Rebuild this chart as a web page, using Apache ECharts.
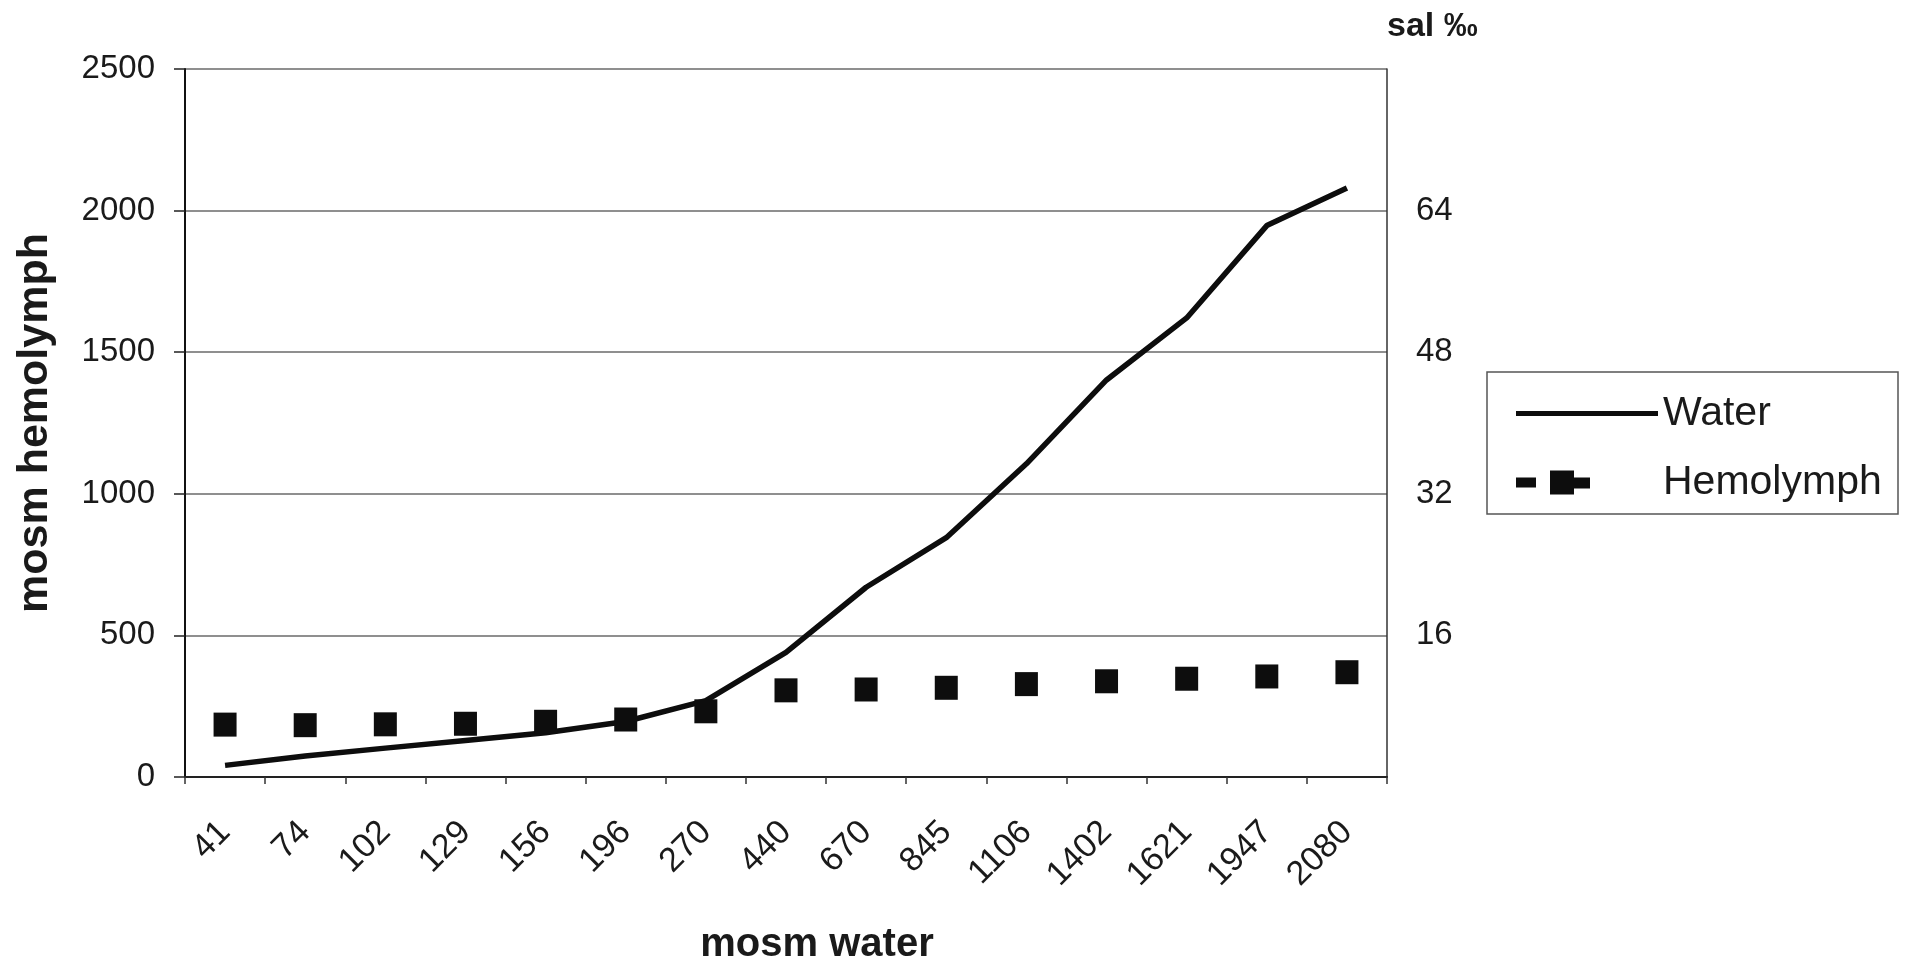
<!DOCTYPE html>
<html>
<head>
<meta charset="utf-8">
<title>Water and hemolymph osmolality</title>
<script src="https://cdn.jsdelivr.net/npm/echarts@6/dist/echarts.min.js"></script>
<style>
  html, body { margin: 0; padding: 0; background: #ffffff; }
  #chart { width: 1914px; height: 967px; }
</style>
</head>
<body>
<div id="chart"></div>
<script>
// Osmolality of the surrounding water (x categories) and of the hemolymph
const categories = ['41', '74', '102', '129', '156', '196', '270', '440', '670', '845', '1106', '1402', '1621', '1947', '2080'];
const waterValues = [41, 74, 102, 129, 156, 196, 270, 440, 670, 845, 1106, 1402, 1621, 1947, 2080];
const hemolymphValues = [185, 183, 186, 188, 195, 203, 232, 306, 309, 315, 328, 338, 347, 355, 370];

// Axis scales: mosm on the left, salinity (per mille) on the right
const mosmTicks = { min: 0, max: 2500, step: 500 };
const salTicks = { min: 0, max: 80, step: 16 };

const FONT = '"Liberation Sans", Arial, Helvetica, sans-serif';
const INK = '#1a1a1a';

// Legend glyphs drawn in a 142 x 28 box (corner points fix the box size)
const BOX = 'M0,0L0,0M142,28L142,28';
const WATER_ICON = 'path://' + BOX + 'M0,11.5L142,11.5L142,16.5L0,16.5Z';
const HEMO_ICON = 'path://' + BOX + 'M0,9L20,9L20,19L0,19Z M34,2L58,2L58,26L34,26Z M58,9L74,9L74,20L58,20Z';

const chart = echarts.init(document.getElementById('chart'), null, { renderer: 'canvas' });

chart.setOption({
  animation: false,
  backgroundColor: '#ffffff',
  grid: { left: 185, right: 527, top: 69, bottom: 190, containLabel: false, outerBoundsMode: 'none' },
  legend: {
    orient: 'vertical',
    left: 1511,
    top: 388,
    itemWidth: 142,
    itemHeight: 28,
    itemGap: 28,
    selectedMode: false,
    itemStyle: { borderWidth: 0, opacity: 1 },
    textStyle: { fontFamily: FONT, fontSize: 41, color: INK },
    data: [
      { name: 'Water', icon: WATER_ICON, itemStyle: { color: '#0d0d0d', borderWidth: 0, opacity: 1 } },
      { name: 'Hemolymph', icon: HEMO_ICON, itemStyle: { color: '#0d0d0d', borderWidth: 0, opacity: 1 } }
    ]
  },
  graphic: [
    {
      type: 'rect',
      z: 1,
      shape: { x: 1487, y: 372, width: 411, height: 142 },
      style: { fill: '#ffffff', stroke: '#555555', lineWidth: 1.5 }
    }
  ],
  xAxis: {
    type: 'category',
    data: categories,
    boundaryGap: true,
    name: 'mosm water',
    nameLocation: 'middle',
    nameGap: 148,
    nameTextStyle: { fontFamily: FONT, fontSize: 40, fontWeight: 'bold', color: INK, padding: [0, 0, 0, 62] },
    axisLine: { lineStyle: { color: '#222222', width: 2 } },
    axisTick: { show: true, interval: 0, length: 7, lineStyle: { color: '#333333', width: 1.5 } },
    axisLabel: { interval: 0, rotate: 45, fontFamily: FONT, fontSize: 34, color: INK, margin: 50 },
    splitLine: { show: false }
  },
  yAxis: [
    {
      type: 'value',
      position: 'left',
      min: mosmTicks.min,
      max: mosmTicks.max,
      interval: mosmTicks.step,
      name: 'mosm hemolymph',
      nameLocation: 'middle',
      nameGap: 128,
      nameTextStyle: { fontFamily: FONT, fontSize: 43, fontWeight: 'bold', color: INK },
      axisLine: { show: true, lineStyle: { color: '#111111', width: 2 } },
      axisTick: { show: true, length: 11, lineStyle: { color: '#222222', width: 1.5 } },
      axisLabel: { fontFamily: FONT, fontSize: 33, color: INK, margin: 30, formatter: (v) => String(v) },
      splitLine: { show: true, lineStyle: { color: '#6a6a6a', width: 1.5 } }
    },
    {
      type: 'value',
      position: 'right',
      min: salTicks.min,
      max: salTicks.max,
      interval: salTicks.step,
      name: 'sal ‰',
      nameLocation: 'end',
      nameGap: 25,
      nameTextStyle: { fontFamily: FONT, fontSize: 34, fontWeight: 'bold', color: INK, align: 'left', verticalAlign: 'bottom' },
      axisLine: { show: true, lineStyle: { color: '#333333', width: 1.5 } },
      axisTick: { show: false },
      axisLabel: { fontFamily: FONT, fontSize: 33, color: INK, margin: 29, showMinLabel: false, showMaxLabel: false, formatter: (v) => String(v) },
      splitLine: { show: false }
    }
  ],
  series: [
    {
      name: 'Water',
      type: 'line',
      yAxisIndex: 0,
      data: waterValues,
      symbol: 'none',
      lineStyle: { color: '#0d0d0d', width: 5.5 },
      itemStyle: { color: '#0d0d0d' },
      z: 3
    },
    {
      name: 'Hemolymph',
      type: 'scatter',
      yAxisIndex: 0,
      data: hemolymphValues,
      symbol: 'rect',
      symbolSize: [23, 24],
      itemStyle: { color: '#0d0d0d', opacity: 1 },
      z: 4
    }
  ]
});
</script>
</body>
</html>
